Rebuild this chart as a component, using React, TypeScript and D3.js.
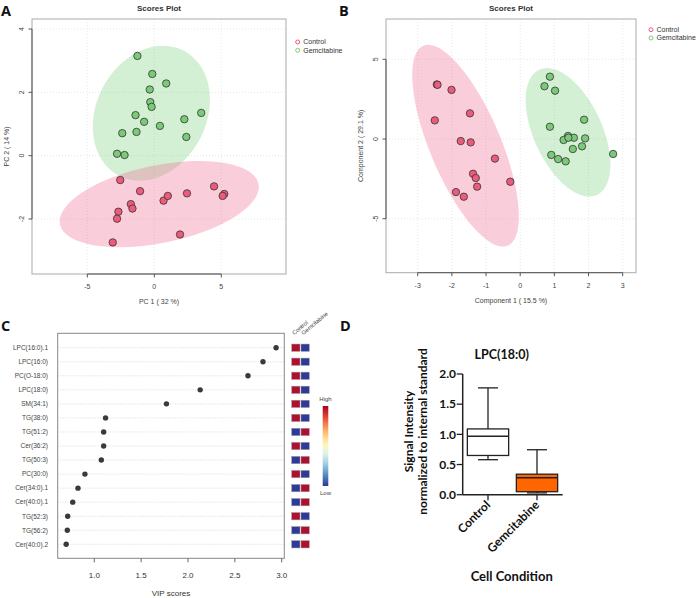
import React from 'react';
import * as d3 from 'd3';

// ---------------- DATA ----------------
const groups = ['Control', 'Gemcitabine'];

// Panel A – PCA scores
const pcaControl: [number, number][] = [
  [-2.54, -0.77], [-1.06, -1.12], [-1.75, -1.53], [-1.63, -1.67], [-2.68, -1.77],
  [-2.78, -1.99], [-3.1, -2.74], [0.69, -1.42], [1.01, -1.27], [2.44, -1.19],
  [4.46, -0.97], [5.22, -1.21], [5.1, -1.27], [1.92, -2.49],
];
const pcaGem: [number, number][] = [
  [-1.26, 3.15], [-0.15, 2.58], [0.89, 2.28], [-0.34, 2.09], [-0.3, 1.69],
  [-0.2, 1.54], [-1.4, 1.28], [-0.76, 1.07], [0.42, 0.94], [2.24, 1.15],
  [3.5, 1.35], [2.39, 0.59], [-2.39, 0.71], [-1.33, 0.75], [-2.78, 0.06], [-2.22, 0.02],
];
const pcaEllControl = { cx: 0.37, cy: -1.53, sx: 7.43, sy: 1.36, r: 0.4 };
const pcaEllGem = { cx: -0.22, cy: 1.34, sx: 4.37, sy: 2.13, r: 0.2 };
const pcaTicksX = [-5, 0, 5];
const pcaTicksY = [-2, 0, 2, 4];

// Panel B – PLS-DA scores
const plsControl: [number, number][] = [
  [-2.44, 3.42], [-2.42, 3.4], [-2.01, 3.08], [-2.5, 1.17], [-1.47, 1.61],
  [-1.74, -0.13], [-1.45, -0.21], [-0.74, -1.23], [-1.38, -2.18], [-1.3, -2.45],
  [-1.26, -2.99], [-0.29, -2.68], [-1.88, -3.33], [-1.65, -3.62],
];
const plsGem: [number, number][] = [
  [0.87, 3.91], [0.71, 3.31], [1.02, 3.03], [1.87, 1.21], [0.87, 0.77],
  [1.4, 0.19], [1.57, 0.08], [1.9, 0.04], [1.27, -0.06], [1.41, 0.08],
  [1.54, -0.63], [1.81, -0.46], [0.91, -1.0], [1.11, -1.26], [1.33, -1.4], [2.72, -0.94],
];
const plsEllControl = { cx: -1.6, cy: -0.42, sx: 1.56, sy: 6.33, r: -0.7 };
const plsEllGem = { cx: 1.4, cy: 0.42, sx: 1.24, sy: 4.03, r: -0.5 };
const plsTicksX = [-3, -2, -1, 0, 1, 2, 3];
const plsTicksY = [-5, 0, 5];

// Panel C – VIP scores
const vipFeatures = [
  'LPC(16:0).1', 'LPC(16:0)', 'PC(O-18:0)', 'LPC(18:0)', 'SM(34:1)', 'TG(38:0)', 'TG(51:2)',
  'Cer(36:2)', 'TG(50:3)', 'PC(30:0)', 'Cer(34:0).1', 'Cer(40:0).1', 'TG(52:3)', 'TG(56:2)', 'Cer(40:0).2',
];
const vipScores = [2.94, 2.8, 2.64, 2.13, 1.77, 1.12, 1.1, 1.1, 1.075, 0.9, 0.826, 0.77, 0.716, 0.712, 0.7];
// 1 = Control high / Gemcitabine low, 0 = reverse
const vipControlHigh = [1, 1, 1, 1, 1, 1, 0, 1, 0, 1, 0, 0, 1, 0, 0];
const vipTicks = [1.0, 1.5, 2.0, 2.5, 3.0];

// Panel D – box plot LPC(18:0)
const boxMin = [0.58, 0.03];
const boxQ1 = [0.65, 0.05];
const boxMedian = [0.97, 0.28];
const boxQ3 = [1.09, 0.34];
const boxMax = [1.77, 0.745];
const boxTicks = [0, 0.5, 1.0, 1.5, 2.0];

// ---------------- STYLE ----------------
const RED = '#EC5A7C';
const GREEN = '#7ACB78';
const RED_FILL = 'rgba(240,100,140,0.32)';
const GREEN_FILL = 'rgba(100,200,100,0.28)';
const SANS = '"Liberation Sans", Arial, sans-serif';
const BOLD = 'Lato, "Open Sans", sans-serif';

type Ell = { cx: number; cy: number; sx: number; sy: number; r: number };

function ellipsePath(e: Ell, xs: d3.ScaleLinear<number, number>, ys: d3.ScaleLinear<number, number>) {
  const d = Math.acos(e.r);
  const ts = d3.range(0, 101).map((i) => (i / 100) * Math.PI * 2);
  const line = d3
    .line<number>()
    .x((t) => xs(e.cx + e.sx * Math.cos(t + d / 2)))
    .y((t) => ys(e.cy + e.sy * Math.cos(t - d / 2)))
    .curve(d3.curveLinearClosed);
  return line(ts) || '';
}

type ScatterProps = {
  id: string;
  box: { x0: number; x1: number; y0: number; y1: number };
  xs: d3.ScaleLinear<number, number>;
  ys: d3.ScaleLinear<number, number>;
  xTicks: number[];
  yTicks: number[];
  ctrl: [number, number][];
  gem: [number, number][];
  ellCtrl: Ell;
  ellGem: Ell;
  xLabel: string;
  yLabel: string;
  legendX: number;
  legendY: number;
};

function ScatterPanel(p: ScatterProps) {
  const { box, xs, ys } = p;
  const cxm = (box.x0 + box.x1) / 2;
  const cym = (box.y0 + box.y1) / 2;
  const tc = '#444';
  return (
    <g>
      <defs>
        <clipPath id={p.id}>
          <rect x={box.x0} y={box.y0} width={box.x1 - box.x0} height={box.y1 - box.y0} />
        </clipPath>
      </defs>
      {p.xTicks.map((t) => (
        <line key={'gx' + t} x1={xs(t)} x2={xs(t)} y1={box.y0} y2={box.y1} stroke="#ddd" strokeWidth={0.7} strokeDasharray="1,2" />
      ))}
      {p.yTicks.map((t) => (
        <line key={'gy' + t} x1={box.x0} x2={box.x1} y1={ys(t)} y2={ys(t)} stroke="#ddd" strokeWidth={0.7} strokeDasharray="1,2" />
      ))}
      <g clipPath={`url(#${p.id})`}>
        <path d={ellipsePath(p.ellGem, xs, ys)} fill={GREEN_FILL} />
        <path d={ellipsePath(p.ellCtrl, xs, ys)} fill={RED_FILL} />
        {p.gem.map((d, i) => (
          <circle key={'g' + i} cx={xs(d[0])} cy={ys(d[1])} r={3.7} fill={GREEN} stroke="#333" strokeWidth={0.8} />
        ))}
        {p.ctrl.map((d, i) => (
          <circle key={'c' + i} cx={xs(d[0])} cy={ys(d[1])} r={3.7} fill={RED} stroke="#333" strokeWidth={0.8} />
        ))}
      </g>
      <rect x={box.x0} y={box.y0} width={box.x1 - box.x0} height={box.y1 - box.y0} fill="none" stroke="#aaa" strokeWidth={1} />
      <line x1={xs(p.xTicks[0])} x2={xs(p.xTicks[p.xTicks.length - 1])} y1={box.y1} y2={box.y1} stroke="#555" strokeWidth={1} />
      <line x1={box.x0} x2={box.x0} y1={ys(p.yTicks[0])} y2={ys(p.yTicks[p.yTicks.length - 1])} stroke="#555" strokeWidth={1} />
      {p.xTicks.map((t) => (
        <g key={'tx' + t}>
          <line x1={xs(t)} x2={xs(t)} y1={box.y1} y2={box.y1 + 3.5} stroke="#555" />
          <text x={xs(t)} y={box.y1 + 15} textAnchor="middle" fontSize={7} fill={tc} fontFamily={SANS}>
            {t}
          </text>
        </g>
      ))}
      {p.yTicks.map((t) => (
        <g key={'ty' + t}>
          <line x1={box.x0 - 3.5} x2={box.x0} y1={ys(t)} y2={ys(t)} stroke="#555" />
          <text
            transform={`translate(${box.x0 - 8.5},${ys(t)}) rotate(-90)`}
            textAnchor="middle"
            fontSize={7}
            fill={tc}
            fontFamily={SANS}
          >
            {t}
          </text>
        </g>
      ))}
      <text x={cxm} y={11} textAnchor="middle" fontSize={8} fontWeight="bold" fill="#333" fontFamily={SANS}>
        Scores Plot
      </text>
      <text x={cxm} y={box.y1 + 30} textAnchor="middle" fontSize={7} fill={tc} fontFamily={SANS}>
        {p.xLabel}
      </text>
      <text transform={`translate(${box.x0 - 23},${cym}) rotate(-90)`} textAnchor="middle" fontSize={7} fill={tc} fontFamily={SANS}>
        {p.yLabel}
      </text>
      {groups.map((g, i) => (
        <g key={g}>
          <circle cx={p.legendX} cy={p.legendY + i * 8.3} r={2} fill="none" stroke={i === 0 ? RED : GREEN} strokeWidth={1} />
          <text x={p.legendX + 5.5} y={p.legendY + i * 8.3 + 2.4} fontSize={7} fill="#333" fontFamily={SANS}>
            {g}
          </text>
        </g>
      ))}
    </g>
  );
}

function VipPanel() {
  const box = { x0: 57.7, x1: 284.3, y0: 333.3, y1: 558.3 };
  const xs = d3.scaleLinear().domain([1, 3]).range([94.3, 281.7]);
  const ys = d3.scalePoint<string>().domain(vipFeatures).range([347.7, 544.3]);
  const cellX = [291.7, 301];
  const cellW = 8.3;
  const cellH = 7.3;
  const high = '#B0102F';
  const low = '#2E3A99';
  const stops = d3.range(0, 11).map((i) => i / 10);
  return (
    <g>
      <defs>
        <linearGradient id="rdylbu" x1="0" y1="0" x2="0" y2="1">
          {stops.map((s) => (
            <stop key={s} offset={s} stopColor={d3.interpolateRdYlBu(s)} />
          ))}
        </linearGradient>
      </defs>
      {vipFeatures.map((f) => (
        <line key={'gl' + f} x1={box.x0} x2={box.x1} y1={ys(f)} y2={ys(f)} stroke="#ccc" strokeWidth={0.7} strokeDasharray="1,1.5" />
      ))}
      <rect x={box.x0} y={box.y0} width={box.x1 - box.x0} height={box.y1 - box.y0} fill="none" stroke="#888" strokeWidth={1} />
      {vipFeatures.map((f, i) => (
        <g key={f}>
          <circle cx={xs(vipScores[i])} cy={ys(f)} r={2.7} fill="#3a3a3a" />
          <text x={48} y={(ys(f) as number) + 2.3} textAnchor="end" fontSize={6.5} fill="#444" fontFamily={SANS}>
            {f}
          </text>
          {groups.map((g, j) => {
            const isHigh = vipControlHigh[i] === 1 ? j === 0 : j === 1;
            return (
              <rect
                key={g}
                x={cellX[j]}
                y={(ys(f) as number) - cellH / 2}
                width={cellW}
                height={cellH}
                fill={isHigh ? high : low}
                stroke="#999"
                strokeWidth={0.5}
              />
            );
          })}
        </g>
      ))}
      {vipTicks.map((t) => (
        <g key={t}>
          <line x1={xs(t)} x2={xs(t)} y1={box.y1} y2={box.y1 + 4} stroke="#666" />
          <text x={xs(t)} y={box.y1 + 19.5} textAnchor="middle" fontSize={8} fill="#333" fontFamily={SANS}>
            {t.toFixed(1)}
          </text>
        </g>
      ))}
      <text x={(box.x0 + box.x1) / 2} y={596} textAnchor="middle" fontSize={8} fill="#333" fontFamily={SANS}>
        VIP scores
      </text>
      {groups.map((g, j) => (
        <text key={g} transform={`translate(${cellX[j] + 2.5},${box.y0 + 2}) rotate(-40)`} fontSize={5.8} fill="#444" fontFamily={SANS}>
          {g}
        </text>
      ))}
      <rect x={322.7} y={406} width={5.6} height={80} fill="url(#rdylbu)" />
      <text x={325.5} y={401} textAnchor="middle" fontSize={6} fill="#444" fontFamily={SANS}>
        High
      </text>
      <text x={325.5} y={495} textAnchor="middle" fontSize={6} fill="#444" fontFamily={SANS}>
        Low
      </text>
    </g>
  );
}

function BoxPanel() {
  const ys = d3.scaleLinear().domain([0, 2]).range([494.7, 374]);
  const xs = d3.scalePoint<string>().domain(groups).range([488, 537]);
  const axisX = 462.7;
  const bw = 41.3;
  const cap = 20;
  const fills = ['#ffffff', '#FF6600'];
  return (
    <g fontFamily={BOLD} fontWeight="bold">
      <text x={501.7} y={358.5} textAnchor="middle" fontSize={12.5} fill="#111">
        LPC(18:0)
      </text>
      <line x1={axisX} x2={axisX} y1={ys(2)} y2={ys(0)} stroke="#222" strokeWidth={1.5} />
      <line x1={axisX} x2={562.7} y1={ys(0)} y2={ys(0)} stroke="#222" strokeWidth={1.5} />
      {boxTicks.map((t) => (
        <g key={t}>
          <line x1={axisX - 6} x2={axisX} y1={ys(t)} y2={ys(t)} stroke="#222" strokeWidth={1.3} />
          <text x={456} y={ys(t) + 4.3} textAnchor="end" fontSize={12} fill="#111">
            {t.toFixed(1)}
          </text>
        </g>
      ))}
      {groups.map((g, i) => {
        const cx = xs(g) as number;
        return (
          <g key={g}>
            <line x1={cx} x2={cx} y1={ys(0)} y2={ys(0) + 5.5} stroke="#222" strokeWidth={1.3} />
            <line x1={cx} x2={cx} y1={ys(boxMax[i])} y2={ys(boxQ3[i])} stroke="#222" strokeWidth={1.3} />
            <line x1={cx} x2={cx} y1={ys(boxQ1[i])} y2={ys(boxMin[i])} stroke="#222" strokeWidth={1.3} />
            <line x1={cx - cap / 2} x2={cx + cap / 2} y1={ys(boxMax[i])} y2={ys(boxMax[i])} stroke="#222" strokeWidth={1.3} />
            <line x1={cx - cap / 2} x2={cx + cap / 2} y1={ys(boxMin[i])} y2={ys(boxMin[i])} stroke="#222" strokeWidth={1.3} />
            <rect
              x={cx - bw / 2}
              y={ys(boxQ3[i])}
              width={bw}
              height={ys(boxQ1[i]) - ys(boxQ3[i])}
              fill={fills[i]}
              stroke="#222"
              strokeWidth={1.3}
            />
            <line x1={cx - bw / 2} x2={cx + bw / 2} y1={ys(boxMedian[i])} y2={ys(boxMedian[i])} stroke="#222" strokeWidth={1.5} />
            <text transform={`translate(${cx + 3},${ys(0) + 11}) rotate(-45)`} textAnchor="end" fontSize={12} fill="#111">
              {g}
            </text>
          </g>
        );
      })}
      <text transform={`translate(413,431.5) rotate(-90)`} textAnchor="middle" fontSize={12} fill="#111">
        Signal Intensity
      </text>
      <text transform={`translate(427,431.5) rotate(-90)`} textAnchor="middle" fontSize={12} fill="#111">
        normalized to internal standard
      </text>
      <text x={511.7} y={580.5} textAnchor="middle" fontSize={13} fill="#111">
        Cell Condition
      </text>
    </g>
  );
}

export default function App() {
  const aBox = { x0: 32, x1: 286, y0: 19, y1: 274 };
  const aX = d3.scaleLinear().domain([-5, 5]).range([87.3, 221.3]);
  const aY = d3.scaleLinear().domain([-2, 4]).range([219, 29]);
  const bBox = { x0: 386, x1: 636, y0: 19, y1: 272.7 };
  const bX = d3.scaleLinear().domain([-3, 3]).range([417.7, 622.7]);
  const bY = d3.scaleLinear().domain([-5, 5]).range([218.7, 59.3]);
  const letter = { fontFamily: '"Open Sans", sans-serif', fontWeight: 'bold' as const, fontSize: 14.5, fill: '#111' };
  return (
    <svg width={697} height={598} style={{ position: 'absolute', left: 0, top: 0, display: 'block', background: '#fff' }}>
      <rect width={697} height={598} fill="#fff" />
      <ScatterPanel
        id="clipA"
        box={aBox}
        xs={aX}
        ys={aY}
        xTicks={pcaTicksX}
        yTicks={pcaTicksY}
        ctrl={pcaControl}
        gem={pcaGem}
        ellCtrl={pcaEllControl}
        ellGem={pcaEllGem}
        xLabel="PC 1 ( 32 %)"
        yLabel="PC 2 ( 14 %)"
        legendX={297.7}
        legendY={42}
      />
      <ScatterPanel
        id="clipB"
        box={bBox}
        xs={bX}
        ys={bY}
        xTicks={plsTicksX}
        yTicks={plsTicksY}
        ctrl={plsControl}
        gem={plsGem}
        ellCtrl={plsEllControl}
        ellGem={plsEllGem}
        xLabel="Component 1 ( 15.5 %)"
        yLabel="Component 2 ( 29.1 %)"
        legendX={651}
        legendY={29.7}
      />
      <VipPanel />
      <BoxPanel />
      <text x={1} y={15.5} {...letter}>A</text>
      <text x={339} y={15.5} {...letter}>B</text>
      <text x={1} y={331} {...letter}>C</text>
      <text x={340} y={331} {...letter}>D</text>
    </svg>
  );
}
